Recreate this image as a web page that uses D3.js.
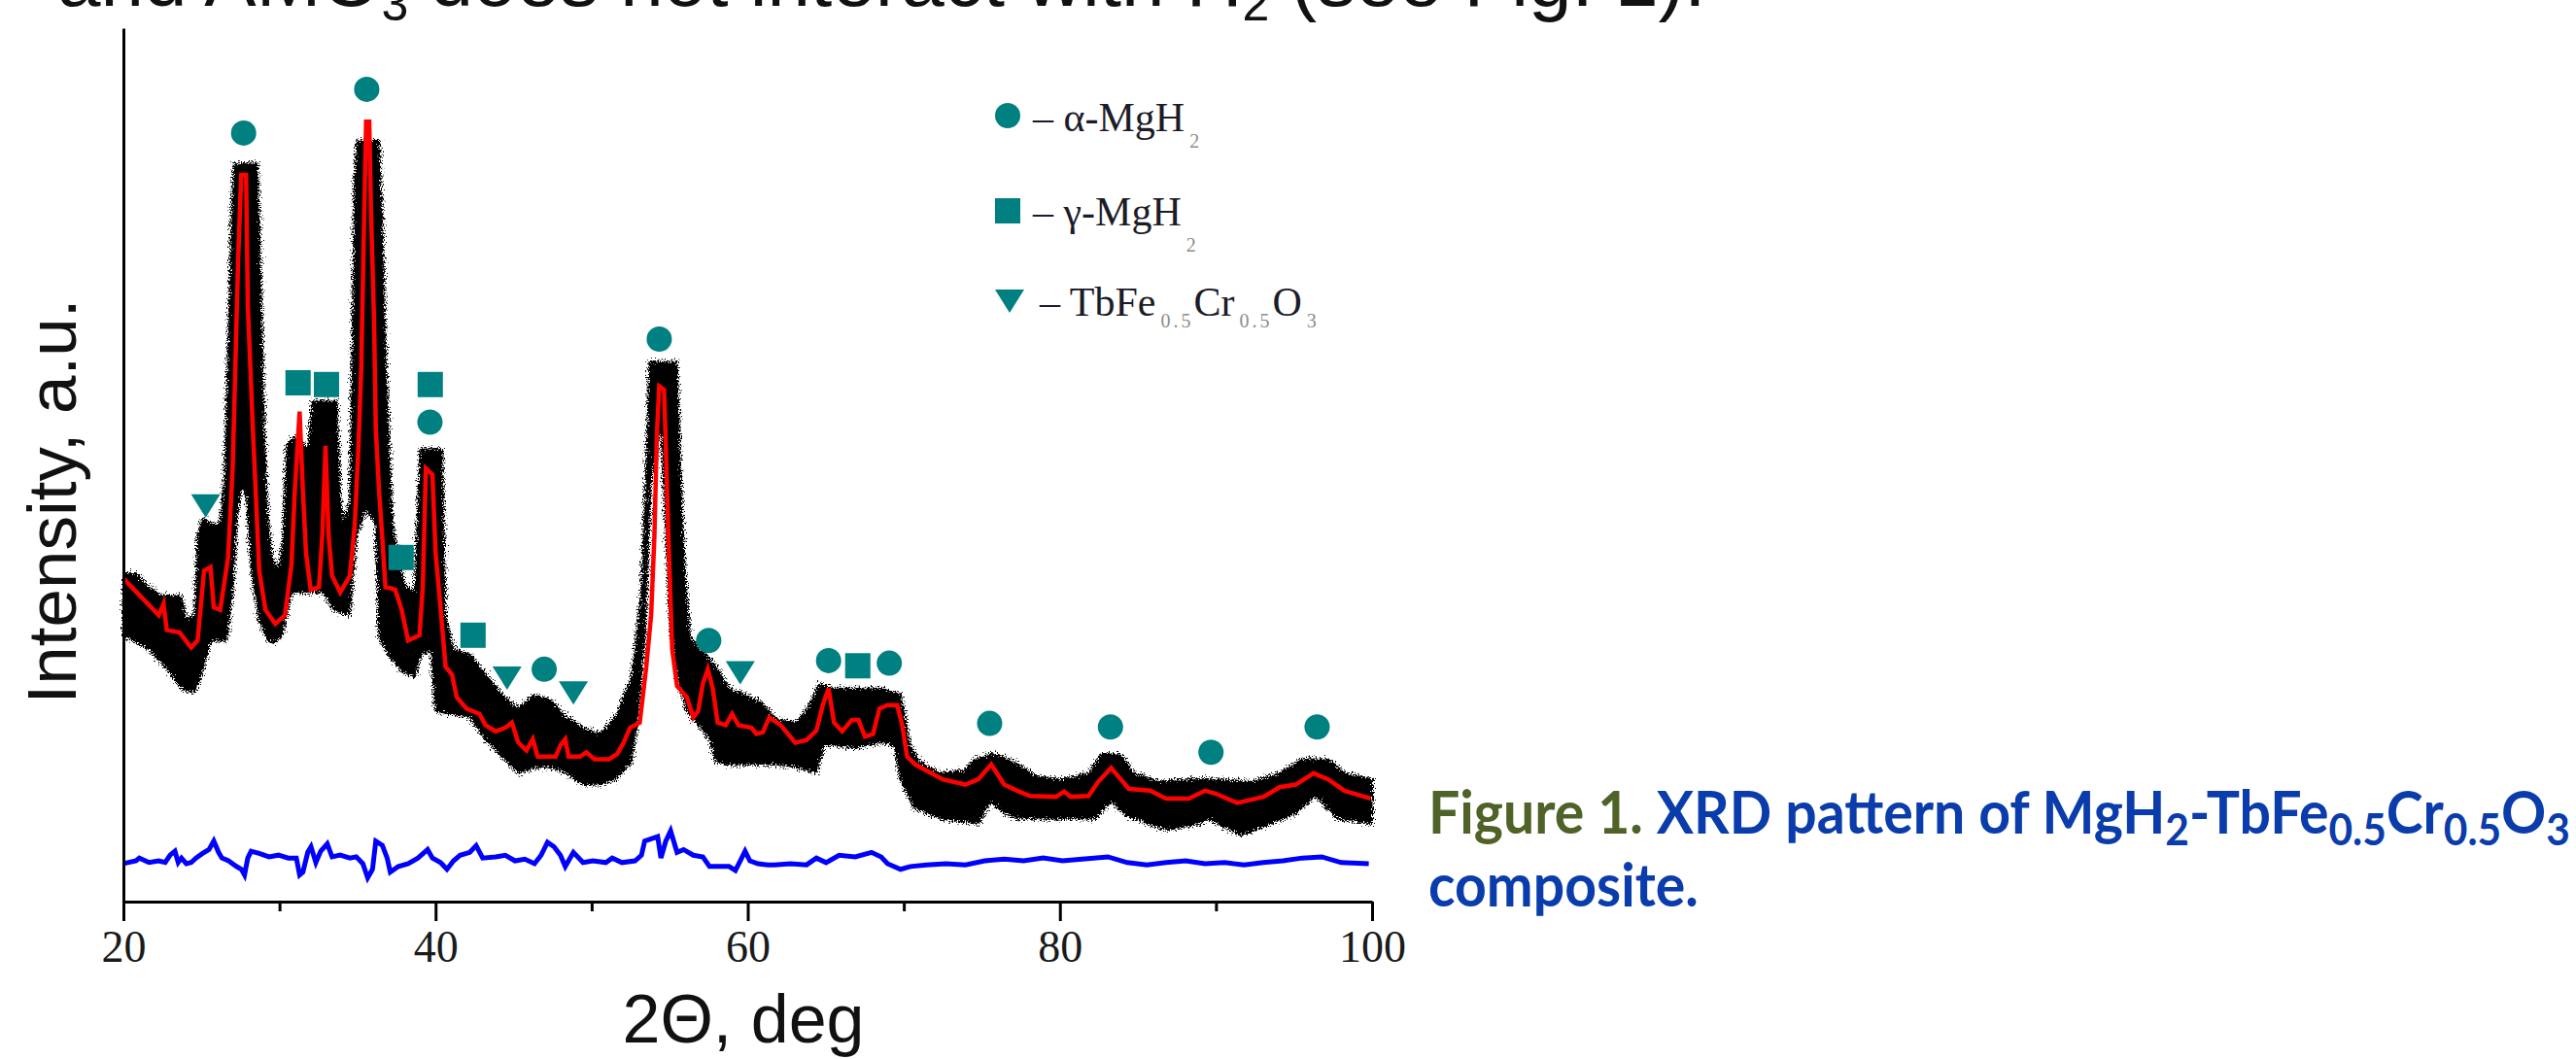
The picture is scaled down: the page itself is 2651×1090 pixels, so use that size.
<!DOCTYPE html>
<html>
<head>
<meta charset="utf-8">
<script src="https://cdn.jsdelivr.net/npm/d3@7"></script>
<style>
  body { margin: 0; background: #fff; }
  svg { display: block; }
</style>
</head>
<body>
<script>
//XRD pattern of MgH2-TbFe0.5Cr0.5O3 (2theta in deg, intensity in a.u. 0-100)

//x axis ticks
var xTickValues = [20, 40, 60, 80, 100];
var xMinorTicks = [30, 50, 70, 90];

//observed data band (upper and lower edge of the black scatter)
var obsUpperTheta = [20.0, 20.8, 21.6, 22.47, 23.7, 24.03, 24.55, 24.75, 25.06, 25.79, 26.2, 26.5, 26.73, 26.93, 27.08, 28.59, 28.8, 29.01, 29.22, 29.53, 29.94, 30.25, 30.46, 30.88, 31.5, 31.81, 32.12, 33.68, 33.89, 34.1, 34.51, 34.68, 34.82, 34.97, 36.38, 36.59, 36.79, 37.0, 37.21, 37.62, 38.14, 38.66, 38.87, 39.01, 40.42, 40.63, 41.15, 42.19, 43.2, 44.26, 45.3, 46.34, 47.38, 48.41, 49.45, 50.5, 51.53, 52.57, 53.19, 53.5, 53.7, 55.47, 55.68, 55.99, 56.3, 56.92, 57.34, 58.17, 58.79, 59.83, 60.87, 61.9, 63.14, 63.96, 64.6, 65.43, 66.88, 68.54, 69.79, 70.41, 71.0, 72.3, 73.9, 74.55, 75.8, 77.05, 78.5, 80.17, 81.83, 82.66, 83.9, 84.73, 86.4, 88.47, 90.34, 92.2, 94.08, 95.53, 97.19, 98.23, 100.0];
var obsUpperValue = [37.6, 37.6, 36.0, 35.0, 35.0, 32.5, 32.5, 41.8, 43.8, 43.2, 43.2, 48.9, 64.4, 78.6, 84.5, 84.5, 70.9, 54.8, 44.4, 39.3, 37.9, 41.8, 52.2, 53.2, 52.5, 51.5, 57.3, 57.3, 46.4, 43.2, 45.7, 63.8, 82.5, 87.1, 87.1, 77.4, 63.8, 53.5, 43.8, 38.6, 36.0, 35.4, 45.0, 51.8, 51.8, 32.8, 28.9, 28.3, 26.0, 23.7, 22.1, 23.7, 23.1, 21.1, 19.9, 19.2, 21.1, 25.7, 35.4, 49.6, 61.8, 61.8, 49.6, 37.3, 30.2, 28.9, 28.3, 26.4, 24.4, 23.7, 22.8, 20.8, 20.5, 22.5, 25.0, 24.4, 24.4, 24.4, 23.7, 17.9, 16.0, 14.7, 15.0, 16.3, 16.9, 16.0, 14.3, 14.0, 14.7, 16.9, 16.9, 14.7, 13.7, 14.0, 14.0, 13.7, 14.7, 16.3, 16.3, 14.7, 14.0];
var obsLowerTheta = [20.0, 21.64, 22.9, 23.7, 24.55, 24.96, 25.58, 26.6, 27.0, 27.3, 27.6, 27.9, 28.18, 28.7, 29.3, 29.73, 30.15, 30.77, 31.6, 32.8, 33.47, 34.5, 34.92, 35.55, 36.17, 36.38, 37.0, 37.83, 38.66, 39.08, 39.7, 40.0, 41.15, 42.19, 43.2, 44.26, 45.3, 46.34, 47.38, 48.41, 49.45, 50.5, 51.53, 52.57, 52.98, 53.4, 53.81, 54.43, 55.05, 55.47, 56.1, 56.72, 57.55, 57.96, 58.79, 60.87, 61.9, 63.14, 64.4, 64.91, 65.64, 66.88, 68.54, 69.38, 69.79, 70.62, 72.3, 74.77, 75.6, 76.43, 77.26, 81.4, 82.24, 83.28, 84.3, 85.77, 86.81, 88.9, 89.5, 91.58, 93.45, 95.11, 96.36, 97.8, 100.0];
var obsLowerValue = [30.5, 28.9, 26.4, 24.4, 24.0, 25.7, 29.9, 29.9, 35.4, 44.3, 47.6, 46.4, 38.6, 32.1, 29.9, 29.6, 30.5, 35.4, 35.4, 35.4, 33.4, 32.8, 41.8, 45.0, 43.2, 30.2, 28.3, 26.4, 25.7, 28.3, 28.9, 21.8, 21.5, 21.1, 18.6, 16.6, 14.7, 15.4, 15.4, 14.7, 13.4, 13.4, 14.0, 16.0, 21.1, 30.2, 48.3, 54.7, 32.1, 25.7, 21.8, 20.5, 18.6, 16.0, 15.7, 15.7, 15.7, 15.4, 14.7, 17.9, 17.9, 17.6, 18.2, 17.9, 14.0, 10.8, 9.5, 8.9, 11.5, 10.1, 9.5, 9.5, 9.5, 11.5, 9.8, 8.9, 8.2, 8.9, 9.5, 7.6, 8.9, 10.1, 12.1, 9.5, 8.9];

//calculated profile (red)
var fitTheta = [20.0, 22.26, 22.57, 22.78, 23.6, 24.34, 24.75, 25.17, 25.58, 25.79, 26.2, 26.7, 27.0, 27.35, 27.55, 27.86, 27.97, 28.28, 28.49, 28.7, 29.1, 29.73, 30.35, 30.77, 30.98, 31.29, 31.5, 31.7, 32.0, 32.53, 32.74, 32.95, 33.15, 33.37, 33.89, 34.51, 34.82, 35.03, 35.24, 35.38, 35.55, 35.75, 35.86, 36.06, 36.17, 36.38, 36.58, 36.79, 37.1, 37.42, 37.83, 38.24, 38.97, 39.18, 39.38, 39.8, 40.0, 40.33, 40.64, 41.05, 41.36, 41.98, 42.81, 43.2, 43.85, 44.47, 44.89, 45.3, 45.82, 46.23, 46.54, 47.69, 48.0, 48.31, 48.52, 49.25, 49.66, 50.18, 51.11, 51.63, 52.05, 52.46, 53.08, 53.5, 53.81, 54.02, 54.18, 54.33, 54.64, 54.75, 54.95, 55.16, 55.47, 56.1, 56.51, 56.82, 57.13, 57.44, 57.76, 58.07, 58.59, 59.0, 59.41, 60.24, 60.56, 60.97, 61.38, 62.11, 63.04, 63.77, 64.4, 64.81, 65.18, 65.53, 66.05, 66.67, 67.09, 67.51, 68.03, 68.44, 68.96, 69.58, 69.9, 70.21, 70.73, 71.46, 72.5, 73.95, 74.77, 75.6, 76.43, 77.26, 78.09, 79.75, 80.27, 80.69, 81.83, 82.45, 83.28, 83.9, 84.42, 85.77, 86.81, 88.26, 89.3, 89.92, 91.37, 93.04, 94.08, 95.11, 96.26, 97.19, 98.23, 99.9];
var fitValue = [37.0, 32.8, 34.1, 31.1, 30.8, 29.1, 29.9, 37.9, 38.3, 33.7, 33.4, 39.3, 49.6, 73.5, 83.2, 83.2, 68.3, 54.7, 46.4, 37.9, 33.4, 31.8, 32.8, 38.6, 47.0, 56.1, 47.0, 39.9, 35.7, 36.0, 41.8, 52.2, 41.8, 37.3, 35.4, 37.3, 43.1, 50.9, 61.2, 74.2, 89.3, 89.3, 79.3, 66.4, 54.1, 47.0, 41.8, 36.0, 35.9, 35.7, 33.4, 29.9, 30.5, 36.0, 49.6, 48.9, 39.9, 33.4, 26.9, 26.0, 23.4, 22.1, 21.5, 20.2, 19.5, 19.9, 20.5, 18.2, 17.3, 18.6, 16.6, 16.6, 17.9, 18.6, 16.6, 16.6, 17.1, 16.3, 16.3, 16.9, 18.2, 19.9, 20.5, 26.9, 32.8, 41.8, 53.5, 59.0, 58.6, 52.2, 39.9, 28.9, 24.7, 23.4, 21.1, 21.8, 25.0, 26.6, 24.4, 20.5, 20.2, 21.5, 20.2, 19.9, 19.2, 19.4, 21.1, 20.2, 18.2, 18.5, 19.6, 22.5, 24.4, 20.5, 19.5, 20.8, 20.8, 18.9, 19.2, 22.1, 22.5, 22.5, 20.2, 16.6, 15.7, 15.0, 14.0, 13.4, 14.0, 15.7, 13.4, 12.7, 12.1, 12.0, 12.6, 12.0, 12.1, 13.7, 15.3, 14.0, 12.9, 12.7, 11.8, 11.8, 12.7, 12.4, 11.3, 12.0, 13.1, 13.4, 14.7, 14.0, 12.7, 11.8];

//difference curve (blue)
var diffTheta = [20.0, 20.81, 21.02, 21.64, 22.26, 22.68, 22.99, 23.3, 23.51, 23.72, 24.03, 24.34, 24.65, 25.07, 25.48, 25.79, 26.1, 26.31, 26.73, 27.24, 27.56, 27.76, 27.97, 28.18, 28.7, 29.32, 29.94, 30.56, 31.08, 31.29, 31.5, 31.81, 32.02, 32.33, 32.64, 33.06, 33.37, 33.89, 34.51, 34.92, 35.34, 35.65, 35.96, 36.17, 36.59, 36.9, 37.1, 37.62, 38.25, 38.87, 39.49, 39.8, 40.32, 40.73, 41.15, 41.57, 42.19, 42.6, 43.02, 43.85, 44.47, 45.09, 45.72, 46.34, 46.76, 47.17, 47.59, 48.0, 48.31, 48.83, 49.45, 50.08, 50.91, 51.32, 51.94, 52.78, 53.19, 53.4, 54.23, 54.44, 54.75, 55.06, 55.47, 55.89, 56.51, 57.13, 57.55, 58.17, 58.8, 59.21, 59.52, 59.83, 60.14, 60.66, 61.29, 61.7, 62.74, 63.77, 64.4, 65.02, 65.85, 66.89, 67.93, 68.55, 68.96, 69.79, 70.42, 71.46, 72.7, 73.95, 75.19, 76.44, 77.68, 78.93, 80.17, 81.42, 83.08, 84.32, 85.57, 86.81, 88.06, 89.3, 90.55, 91.8, 93.04, 94.29, 95.53, 96.78, 98.02, 99.79];
var diffValue = [4.35, 4.67, 4.99, 4.48, 4.67, 4.48, 5.32, 5.77, 4.48, 4.99, 4.35, 4.48, 4.99, 5.51, 5.96, 6.93, 5.64, 4.99, 4.67, 4.03, 3.7, 3.06, 4.99, 5.77, 5.51, 5.13, 5.32, 4.99, 4.99, 3.06, 3.38, 5.64, 6.28, 4.48, 5.77, 6.61, 5.13, 5.32, 4.99, 5.13, 4.35, 2.73, 3.7, 6.93, 6.44, 4.99, 3.38, 4.03, 4.35, 4.99, 5.96, 4.99, 4.48, 3.7, 4.67, 5.31, 5.64, 6.41, 4.99, 5.12, 5.31, 4.67, 4.86, 4.34, 5.31, 6.8, 6.28, 5.31, 4.02, 5.64, 4.47, 4.67, 4.47, 4.99, 4.47, 4.67, 5.31, 6.93, 7.44, 4.99, 6.93, 8.09, 5.64, 5.96, 5.31, 5.12, 4.02, 4.02, 4.02, 3.57, 4.67, 5.77, 4.67, 4.34, 4.21, 4.21, 4.34, 4.21, 4.99, 4.47, 5.31, 5.12, 5.64, 5.12, 4.34, 3.7, 4.02, 4.21, 4.34, 4.21, 4.67, 4.86, 4.67, 4.99, 4.67, 4.86, 5.12, 4.47, 4.21, 4.47, 4.67, 4.34, 4.47, 4.21, 4.47, 4.67, 4.99, 5.12, 4.47, 4.34];

//phase reflection markers
var alphaTheta = [27.70, 35.59, 39.64, 46.96, 54.33, 57.50, 65.18, 69.07, 75.5, 83.24, 89.68, 96.48];
var alphaLevel = [88.0, 93.0, 54.9, 26.6, 64.4, 29.9, 27.6, 27.3, 20.4, 20.0, 17.1, 20.0];
var gammaTheta = [31.19, 33.01, 37.79, 39.66, 42.40, 67.05];
var gammaLevel = [59.4, 59.2, 39.4, 59.2, 30.5, 27.0];
var tbTheta = [25.27, 44.58, 48.83, 59.52];
var tbLevel = [45.4, 25.7, 24.0, 26.3];

var teal = "#008080";

window.onload = initialize();

function initialize(){
  drawChart();
};

function drawChart(){

  var width = 2651;
  var height = 1090;

  var svg = d3.select("body")
              .append("svg")
              .attr("width", width)
              .attr("height", height);

  //plot frame in pixels
  var x = d3.scaleLinear().domain([20, 100]).range([127, 1412]);
  var y = d3.scaleLinear().domain([0, 100]).range([928, 29]);

  //rough, speckled edge for the scatter band
  var defs = svg.append("defs");
  var rough = defs.append("filter")
                  .attr("id", "rough")
                  .attr("x", "-5%").attr("y", "-5%")
                  .attr("width", "110%").attr("height", "110%");
  rough.append("feTurbulence")
       .attr("type", "fractalNoise")
       .attr("baseFrequency", 0.7)
       .attr("numOctaves", 2)
       .attr("seed", 7)
       .attr("result", "noise");
  rough.append("feDisplacementMap")
       .attr("in", "SourceGraphic")
       .attr("in2", "noise")
       .attr("scale", 13)
       .attr("xChannelSelector", "R")
       .attr("yChannelSelector", "G");

  //text cut off at the top of the page
  var topText = svg.append("text")
                   .attr("x", 59)
                   .attr("y", 6)
                   .style("font-family", "'Liberation Sans', Arial, sans-serif")
                   .style("font-size", "80px")
                   .style("fill", "#111");
  topText.append("tspan").text("and AMO");
  topText.append("tspan").attr("dy", 15).style("font-size", "50px").text("3");
  topText.append("tspan").attr("dy", -15).text(" does not interact with H");
  topText.append("tspan").attr("dy", 15).style("font-size", "50px").text("2");
  topText.append("tspan").attr("dy", -15).text(" (see Fig. 1).");

  //observed band
  var bandPoints = [];
  for (var i = 0; i < obsUpperTheta.length; i++) {
    bandPoints.push([obsUpperTheta[i], obsUpperValue[i]]);
  };
  for (var j = obsLowerTheta.length - 1; j >= 0; j--) {
    bandPoints.push([obsLowerTheta[j], obsLowerValue[j]]);
  };
  var band = d3.line()
               .x(function(d) { return x(d[0]); })
               .y(function(d) { return y(d[1]); })
               .curve(d3.curveLinearClosed);
  svg.append("path")
     .attr("class", "observed")
     .attr("d", band(bandPoints))
     .style("fill", "#000")
     .style("stroke", "#000")
     .style("stroke-width", 2)
     .attr("filter", "url(#rough)");

  var line = d3.line()
               .x(function(d) { return x(d[0]); })
               .y(function(d) { return y(d[1]); });

  //calculated profile
  svg.append("path")
     .attr("class", "fit")
     .attr("d", line(d3.zip(fitTheta, fitValue)))
     .style("fill", "none")
     .style("stroke", "#ff0000")
     .style("stroke-width", 4.5)
     .style("stroke-linejoin", "miter");

  //difference curve
  svg.append("path")
     .attr("class", "diff")
     .attr("d", line(d3.zip(diffTheta, diffValue)))
     .style("fill", "none")
     .style("stroke", "#0000ff")
     .style("stroke-width", 5);

  //axes
  var xAxis = svg.append("g")
                 .attr("transform", "translate(0," + y(0) + ")")
                 .call(d3.axisBottom(x)
                         .tickValues(xTickValues)
                         .tickSize(20)
                         .tickSizeOuter(0)
                         .tickPadding(9)
                         .tickFormat(d3.format("d")));
  xAxis.selectAll("text")
       .style("font-family", "'Liberation Serif', 'Times New Roman', serif")
       .style("font-size", "46px")
       .style("fill", "#1a1a1a");

  var xMinor = svg.append("g")
                  .attr("transform", "translate(0," + y(0) + ")")
                  .call(d3.axisBottom(x)
                          .tickValues(xMinorTicks)
                          .tickSize(10)
                          .tickSizeOuter(0)
                          .tickFormat(""));
  xMinor.select(".domain").remove();

  var yAxis = svg.append("g")
                 .attr("transform", "translate(" + x(20) + ",0)")
                 .call(d3.axisLeft(y).tickValues([]).tickSizeOuter(0));

  svg.selectAll(".domain, .tick line")
     .style("stroke", "#000")
     .style("stroke-width", 3);

  //axis titles
  svg.append("text")
     .attr("x", 765)
     .attr("y", 1073)
     .attr("text-anchor", "middle")
     .style("font-family", "'Liberation Sans', Arial, sans-serif")
     .style("font-size", "70px")
     .style("fill", "#111")
     .text("2\u0398, deg");

  svg.append("text")
     .attr("transform", "translate(78,516) rotate(-90)")
     .attr("text-anchor", "middle")
     .style("font-family", "'Liberation Sans', Arial, sans-serif")
     .style("font-size", "71px")
     .style("fill", "#111")
     .text("Intensity, a.u.");

  //phase markers
  svg.selectAll(".alpha")
     .data(d3.zip(alphaTheta, alphaLevel))
     .enter().append("circle")
     .attr("class", "alpha")
     .attr("cx", function(d) { return x(d[0]); })
     .attr("cy", function(d) { return y(d[1]); })
     .attr("r", 13)
     .style("fill", teal);

  svg.selectAll(".gamma")
     .data(d3.zip(gammaTheta, gammaLevel))
     .enter().append("rect")
     .attr("class", "gamma")
     .attr("x", function(d) { return x(d[0]) - 13; })
     .attr("y", function(d) { return y(d[1]) - 13; })
     .attr("width", 26)
     .attr("height", 26)
     .style("fill", teal);

  var tri = "M-15,-11L15,-11L0,13Z";
  svg.selectAll(".tb")
     .data(d3.zip(tbTheta, tbLevel))
     .enter().append("path")
     .attr("class", "tb")
     .attr("d", tri)
     .attr("transform", function(d) { return "translate(" + x(d[0]) + "," + y(d[1]) + ")"; })
     .style("fill", teal);

  drawLegend(svg, tri);
  drawCaption(svg);
};

function drawLegend(svg, tri){

  var serif = "'Liberation Serif', 'Times New Roman', serif";

  svg.append("circle").attr("cx", 1037).attr("cy", 119).attr("r", 13).style("fill", teal);
  svg.append("rect").attr("x", 1024).attr("y", 204).attr("width", 26).attr("height", 26).style("fill", teal);
  svg.append("path").attr("d", tri).attr("transform", "translate(1039,309)").style("fill", teal);

  var rows = [
    {x: 1063, y: 135, parts: [["\u2013 \u03b1-MgH", 0], ["2", 17]]},
    {x: 1063, y: 232, parts: [["\u2013 \u03b3-MgH", 0], ["2", 27]]},
    {x: 1070, y: 325, parts: [["\u2013 TbFe", 0], ["0.5", 12], ["Cr", 0], ["0.5", 12], ["O", 0], ["3", 12]]}
  ];

  rows.forEach(function(row) {
    var t = svg.append("text")
               .attr("x", row.x)
               .attr("y", row.y)
               .style("font-family", serif)
               .style("font-size", "42px")
               .style("fill", "#1c1c28");
    var prev = 0;
    row.parts.forEach(function(p) {
      var span = t.append("tspan").attr("dy", p[1] - prev).text(p[0]);
      if (p[1] > 0) {
        span.attr("dx", 5)
            .style("font-size", "20px")
            .style("letter-spacing", "3px")
            .style("fill", "#8c8c8c");
      };
      prev = p[1];
    });
  });
};

function drawCaption(svg){

  var font = "Lato, 'Open Sans', sans-serif";
  var blue = "#0a3cab";
  var green = "#4f6228";

  var line1 = svg.append("text")
                 .attr("x", 1470)
                 .attr("y", 858)
                 .style("font-family", font)
                 .style("font-weight", "bold")
                 .style("font-size", "62px")
                 .style("fill", blue);
  line1.append("tspan").style("fill", green).text("Figure 1. ");
  var parts = [["XRD pattern of MgH", 0], ["2", 12], ["-TbFe", 0], ["0.5", 12], ["Cr", 0], ["0.5", 12], ["O", 0], ["3", 12]];
  var prev = 0;
  parts.forEach(function(p) {
    var span = line1.append("tspan").attr("dy", p[1] - prev).text(p[0]);
    if (p[1] > 0) { span.style("font-size", "46px"); };
    prev = p[1];
  });

  //squeeze to the narrow caption face of the original
  var w = line1.node().getComputedTextLength();
  var s = 1175 / w;
  line1.attr("transform", "translate(1470,0) scale(" + s + ",1) translate(-1470,0)");

  svg.append("text")
     .attr("x", 1470)
     .attr("y", 933)
     .attr("transform", "translate(1470,0) scale(" + s + ",1) translate(-1470,0)")
     .style("font-family", font)
     .style("font-weight", "bold")
     .style("font-size", "62px")
     .style("fill", blue)
     .text("composite.");
};
</script>
</body>
</html>
